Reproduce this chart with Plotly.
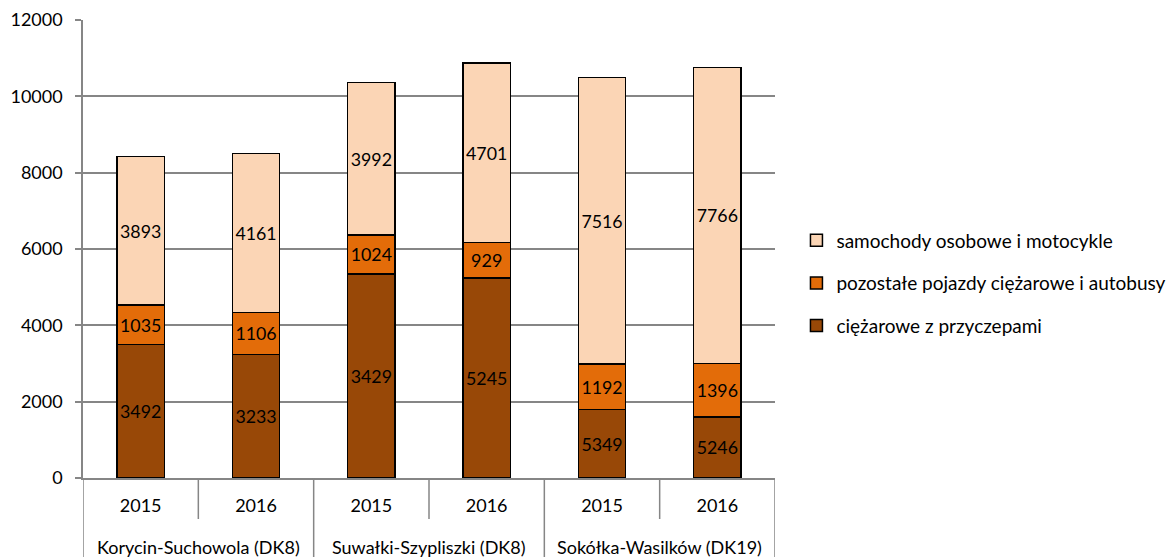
import plotly.graph_objects as go

# kategorie: odcinki drogi i lata
odcinki = ["Korycin-Suchowola (DK8)", "Suwałki-Szypliszki (DK8)", "Sokółka-Wasilków (DK19)"]
lata = ["2015", "2016", "2015", "2016", "2015", "2016"]

# wysokości słupków
ciezarowe_przyczepy = [3492, 3233, 5349, 5245, 1790, 1600]
pozostale_ciezarowe = [1035, 1106, 1024, 929, 1192, 1396]
osobowe = [3893, 4161, 3992, 4701, 7516, 7766]

# etykiety danych tak jak na oryginale
etykiety_przyczepy = ["3492", "3233", "3429", "5245", "5349", "5246"]
etykiety_pozostale = ["1035", "1106", "1024", "929", "1192", "1396"]
etykiety_osobowe = ["3893", "4161", "3992", "4701", "7516", "7766"]

FONT = "Lato"
SZARY = "#868686"
serie = [
    ("ciężarowe z przyczepami", ciezarowe_przyczepy, etykiety_przyczepy, "#984807", 3),
    ("pozostałe pojazdy ciężarowe i autobusy", pozostale_ciezarowe, etykiety_pozostale, "#E36C09", 2),
    ("samochody osobowe i motocykle", osobowe, etykiety_osobowe, "#FBD5B5", 1),
]

x = list(range(len(lata)))

fig = go.Figure()
for nazwa, wartosci, etykiety, kolor, ranga in serie:
    fig.add_trace(go.Bar(
        x=x,
        y=wartosci,
        name=nazwa,
        legendgroup=nazwa,
        legendrank=ranga,
        text=etykiety,
        textposition="inside",
        insidetextanchor="middle",
        textangle=0,
        textfont=dict(family=FONT, size=18, color="black"),
        marker=dict(color=kolor, line=dict(color="black", width=1.5)),
        width=0.41,
    ))

# strona ma 8 px marginesu body
W, H = 1168, 549
L, T, PW, PH = 75, 12, 692, 458

# linie podziału pod osią X: krótkie między latami, długie między odcinkami
for i in range(len(lata) + 1):
    dluga = i % 2 == 0
    fig.add_shape(
        type="line", xref="x", yref="paper",
        x0=i - 0.5, x1=i - 0.5,
        y0=0, y1=-(80 if dluga else 41) / PH,
        line=dict(color=SZARY, width=1.5),
    )

# podpisy odcinków (druga linia osi X)
for g, nazwa in enumerate(odcinki):
    fig.add_annotation(
        x=2 * g + 0.5, y=-69 / PH, xref="x", yref="paper",
        text=nazwa, showarrow=False, yanchor="middle",
        font=dict(family=FONT, size=18, color="black"),
    )

fig.update_layout(
    barmode="stack",
    width=W, height=H,
    margin=dict(l=L, r=W - L - PW, t=T, b=H - T - PH, autoexpand=False),
    plot_bgcolor="white",
    paper_bgcolor="white",
    font=dict(family=FONT, size=18, color="black"),
    showlegend=True,
    legend=dict(
        x=1.031, y=0.425, xanchor="left", yanchor="middle",
        traceorder="grouped",
        tracegroupgap=15,
        font=dict(family=FONT, size=19),
        itemwidth=30,
    ),
)
fig.update_yaxes(
    range=[0, 12000], dtick=2000, tickformat="d",
    showgrid=True, gridcolor=SZARY, gridwidth=1.5,
    showline=True, linecolor=SZARY, linewidth=1.5,
    ticks="outside", ticklen=6, tickcolor=SZARY, tickwidth=1.5,
    ticklabelstandoff=9,
    tickfont=dict(family=FONT, size=18),
    zeroline=False,
)
fig.update_xaxes(
    range=[-0.5, len(lata) - 0.5],
    tickvals=x, ticktext=lata,
    showline=True, linecolor=SZARY, linewidth=1.5,
    ticks="", ticklabelstandoff=11,
    tickfont=dict(family=FONT, size=18),
    showgrid=False, zeroline=False,
)

fig.write_html("out.html")
